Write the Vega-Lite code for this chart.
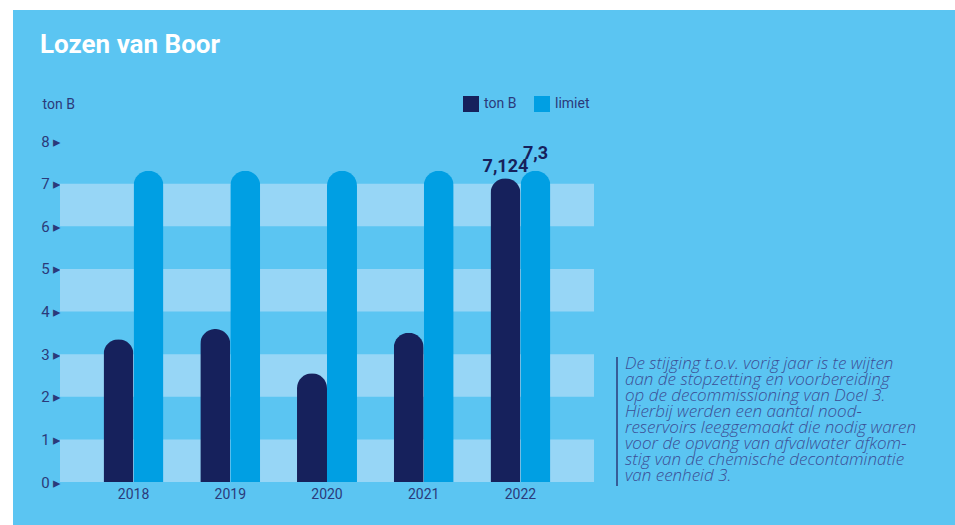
{
  "$schema": "https://vega.github.io/schema/vega-lite/v6.json",
  "width": 942,
  "height": 515,
  "autosize": "none",
  "padding": {"left": 13, "top": 10, "right": 0, "bottom": 0},
  "background": "white",
  "title": {"text": "Lozen van Boor", "anchor": "start", "frame": "group", "orient": "top", "offset": -48, "baseline": "top", "dx": 27, "fontSize": 26, "font": "Roboto", "fontWeight": "bold", "color": "white"},
  "config": {"view": {"fill": "#5bc5f2", "stroke": null}},
  "datasets": {
    "bars": [
      {"year": "2018", "series": "ton B", "value": 3.35},
      {"year": "2018", "series": "limiet", "value": 7.3},
      {"year": "2019", "series": "ton B", "value": 3.59},
      {"year": "2019", "series": "limiet", "value": 7.3},
      {"year": "2020", "series": "ton B", "value": 2.55},
      {"year": "2020", "series": "limiet", "value": 7.3},
      {"year": "2021", "series": "ton B", "value": 3.5},
      {"year": "2021", "series": "limiet", "value": 7.3},
      {"year": "2022", "series": "ton B", "value": 7.124},
      {"year": "2022", "series": "limiet", "value": 7.3}
    ],
    "bands": [
      {"lo": 0, "hi": 1},
      {"lo": 2, "hi": 3},
      {"lo": 4, "hi": 5},
      {"lo": 6, "hi": 7}
    ],
    "note": [
      {"lines": ["De stijging t.o.v. vorig jaar is te wijten", "aan de stopzetting en voorbereiding", "op de decommissioning van Doel 3.", "Hierbij werden een aantal nood-", "reservoirs leeggemaakt die nodig waren", "voor de opvang van afvalwater afkom-", "stig van de chemische decontaminatie", "van eenheid 3."]}
    ]
  },
  "resolve": {"scale": {"x": "independent", "y": "independent"}},
  "layer": [
    {
      "data": {"name": "bands"},
      "mark": {"type": "rect", "color": "#97d6f6"},
      "encoding": {
        "x": {"datum": 0, "type": "quantitative", "scale": {"domain": [0, 1], "range": [47, 581]}, "axis": null},
        "x2": {"datum": 1},
        "y": {"field": "lo", "type": "quantitative", "scale": {"domain": [0, 8], "range": [472, 131]}, "axis": null},
        "y2": {"field": "hi"}
      }
    },
    {
      "data": {"name": "bars"},
      "mark": {"type": "bar", "cornerRadiusTopLeft": 15, "cornerRadiusTopRight": 15},
      "encoding": {
        "x": {"field": "year", "type": "nominal", "scale": {"range": [47, 581], "paddingInner": 0.38, "paddingOuter": 0.45},
          "axis": {"orient": "bottom", "offset": -43, "ticks": false, "domain": false, "labelPadding": 5, "labelFontSize": 14, "labelFont": "Roboto", "labelColor": "#2b3a7a", "title": null, "labelAngle": 0}},
        "xOffset": {"field": "series", "type": "nominal", "sort": ["ton B", "limiet"], "scale": {"domain": ["ton B", "limiet"]}},
        "y": {"field": "value", "type": "quantitative", "scale": {"domain": [0, 8], "range": [472, 131]},
          "axis": {"orient": "left", "offset": -48, "values": [0, 1, 2, 3, 4, 5, 6, 7, 8], "ticks": false, "domain": false, "grid": false, "labelPadding": 0, "labelExpr": "datum.label + '  ▸'", "labelFontSize": 15, "labelFont": "Roboto", "labelColor": "#2b3a7a", "title": "ton B", "titleAngle": 0, "titleAlign": "left", "titleBaseline": "middle", "titleX": -19, "titleY": 94, "titleFontSize": 14, "titleFont": "Roboto", "titleFontWeight": "normal", "titleColor": "#2b3a7a"}},
        "color": {"field": "series", "type": "nominal", "scale": {"domain": ["ton B", "limiet"], "range": ["#16215c", "#009fe3"]},
          "legend": {"title": null, "orient": "none", "legendX": 450, "legendY": 86, "direction": "horizontal", "symbolType": "square", "symbolSize": 256, "symbolStrokeWidth": 0, "symbolOpacity": 1, "labelFontSize": 14, "labelFont": "Roboto", "labelColor": "#2b3a7a", "labelOffset": 5, "columnPadding": 17, "padding": 0}}
      }
    },
    {
      "data": {"name": "bars"},
      "transform": [{"filter": "datum.year == '2022' && datum.series == 'ton B'"}, {"calculate": "replace('' + datum.value, '.', ',')", "as": "label"}],
      "mark": {"type": "text", "baseline": "bottom", "dy": -2, "fontSize": 18, "font": "Roboto", "fontWeight": "bold", "color": "#16215c"},
      "encoding": {
        "x": {"field": "year", "type": "nominal", "scale": {"domain": ["2018", "2019", "2020", "2021", "2022"], "range": [47, 581], "paddingInner": 0.38, "paddingOuter": 0.45}, "axis": null},
        "xOffset": {"field": "series", "type": "nominal", "sort": ["ton B", "limiet"], "scale": {"domain": ["ton B", "limiet"]}},
        "y": {"field": "value", "type": "quantitative", "scale": {"domain": [0, 8], "range": [472, 131]}, "axis": null},
        "text": {"field": "label"}
      }
    },
    {
      "data": {"name": "bars"},
      "transform": [{"filter": "datum.year == '2022' && datum.series == 'limiet'"}, {"calculate": "replace('' + datum.value, '.', ',')", "as": "label"}],
      "mark": {"type": "text", "baseline": "bottom", "dy": -8, "dx": 0, "fontSize": 18, "font": "Roboto", "fontWeight": "bold", "color": "#16215c"},
      "encoding": {
        "x": {"field": "year", "type": "nominal", "scale": {"domain": ["2018", "2019", "2020", "2021", "2022"], "range": [47, 581], "paddingInner": 0.38, "paddingOuter": 0.45}, "axis": null},
        "xOffset": {"field": "series", "type": "nominal", "sort": ["ton B", "limiet"], "scale": {"domain": ["ton B", "limiet"]}},
        "y": {"field": "value", "type": "quantitative", "scale": {"domain": [0, 8], "range": [472, 131]}, "axis": null},
        "text": {"field": "label"}
      }
    },
    {
      "data": {"name": "note"},
      "mark": {"type": "rule", "color": "#2b3a7a", "strokeWidth": 1.5},
      "encoding": {
        "x": {"datum": 0, "type": "quantitative", "scale": {"domain": [0, 1], "range": [604, 942]}, "axis": null},
        "y": {"datum": 0, "type": "quantitative", "scale": {"domain": [0, 1], "range": [347, 476]}, "axis": null},
        "y2": {"datum": 1}
      }
    },
    {
      "data": {"name": "note"},
      "mark": {"type": "text", "align": "left", "baseline": "top", "dx": 8, "lineHeight": 16, "fontSize": 17, "font": "Open Sans", "fontStyle": "italic", "fontWeight": 300, "color": "#3b4e95"},
      "encoding": {
        "x": {"datum": 0, "type": "quantitative", "scale": {"domain": [0, 1], "range": [604, 942]}, "axis": null},
        "y": {"datum": 0, "type": "quantitative", "scale": {"domain": [0, 1], "range": [346, 476]}, "axis": null},
        "text": {"field": "lines"}
      }
    }
  ]
}
